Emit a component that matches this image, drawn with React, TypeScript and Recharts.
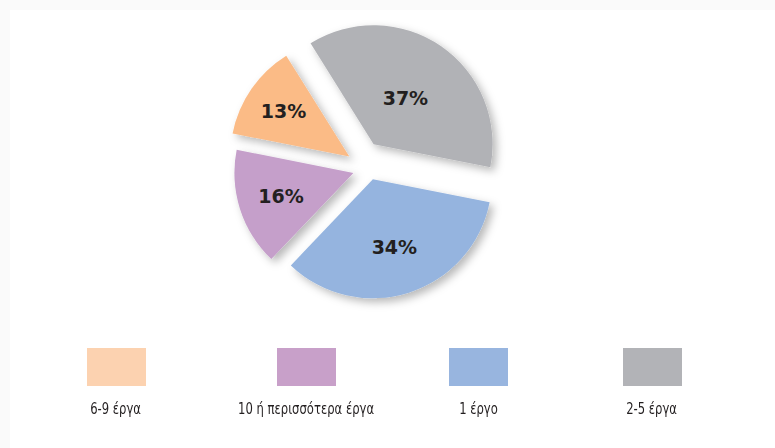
import { PieChart, Pie, Cell, Sector } from 'recharts';

// share of respondents by number of projects (clockwise from the top-left edge)
const categories = ['2-5 έργα', '1 έργο', '10 ή περισσότερα έργα', '6-9 έργα'];
const shares = [37, 34, 16, 13];
const labels = ['37%', '34%', '16%', '13%'];

// legend order as printed under the chart
const legendOrder = ['6-9 έργα', '10 ή περισσότερα έργα', '1 έργο', '2-5 έργα'];

const sliceColors = ['#b1b2b6', '#95b4df', '#c59fca', '#fbbb86'];
const legendColors: Record<string, string> = {
  '6-9 έργα': '#fcd2b0',
  '10 ή περισσότερα έργα': '#c8a0c9',
  '1 έργο': '#98b5df',
  '2-5 έργα': '#b2b3b7',
};

// how far each slice is pulled away from the pie centre (dx, dy),
// and how far its label sits from the slice tip
const sliceShift = [
  [13.6, -19.8],
  [12.9, 15.2],
  [-6.6, 8.9],
  [-10.7, -7.4],
];
const labelDist = [56, 71, 76, 80];
const legendCenters = [116, 306, 478, 652];

const data = categories.map((name, i) => ({ name, value: shares[i], label: labels[i] }));

const RAD = Math.PI / 180;

function ExplodedSlice(props: any) {
  const { cx, cy, fill, index } = props;
  const [dx, dy] = sliceShift[index] ?? [0, 0];
  return (
    <Sector
      {...props}
      cx={cx + dx}
      cy={cy + dy}
      fill={fill}
      stroke="none"
      filter="url(#sliceShadow)"
    />
  );
}

function SliceLabel(props: any) {
  const { cx, cy, midAngle, index } = props;
  const [dx, dy] = sliceShift[index] ?? [0, 0];
  const r = labelDist[index];
  const x = cx + dx + r * Math.cos(midAngle * RAD);
  const y = cy + dy - r * Math.sin(midAngle * RAD);
  return (
    <text
      x={x}
      y={y}
      textAnchor="middle"
      dominantBaseline="central"
      fill="#231f20"
      fontFamily="'DejaVu Sans', Verdana, sans-serif"
      fontWeight="bold"
      fontSize={19}
    >
      {labels[index]}
    </text>
  );
}

export default function App() {
  return (
    <div
      style={{
        position: 'absolute',
        left: 0,
        top: 0,
        width: 775,
        height: 448,
        background: '#fafafa',
        overflow: 'hidden',
      }}
    >
      <svg width={0} height={0} style={{ position: 'absolute' }}>
        <defs>
          <filter id="sliceShadow" x="-30%" y="-30%" width="160%" height="160%">
            <feDropShadow dx={4} dy={4} stdDeviation={4} floodColor="#000" floodOpacity={0.28} />
          </filter>
        </defs>
      </svg>
      <div
        style={{
          position: 'absolute',
          left: 10,
          top: 10,
          width: 765,
          height: 438,
          background: '#fff',
        }}
      />
      <div style={{ position: 'absolute', left: 0, top: 0 }}>
        <PieChart width={775} height={448} margin={{ top: 0, right: 0, bottom: 0, left: 0 }}>
          <Pie
            data={data}
            dataKey="value"
            nameKey="name"
            cx={360}
            cy={164}
            outerRadius={119}
            startAngle={122}
            endAngle={-238}
            stroke="none"
            shape={ExplodedSlice}
            label={SliceLabel}
            labelLine={false}
            isAnimationActive={false}
          >
            {data.map((d, i) => (
              <Cell key={d.name} fill={sliceColors[i]} />
            ))}
          </Pie>
        </PieChart>
      </div>
      {legendOrder.map((name, i) => (
        <div
          key={name}
          style={{
            position: 'absolute',
            left: legendCenters[i] - 100,
            top: 348,
            width: 200,
            display: 'flex',
            flexDirection: 'column',
            alignItems: 'center',
          }}
        >
          <div style={{ width: 59, height: 38, background: legendColors[name] }} />
          <div
            style={{
              marginTop: 14,
              fontFamily: "'DejaVu Sans Condensed', 'DejaVu Sans', sans-serif",
              fontSize: 15,
              color: '#231f20',
              lineHeight: '18px',
              whiteSpace: 'nowrap',
              transform: 'scaleX(0.86)',
            }}
          >
            {name}
          </div>
        </div>
      ))}
    </div>
  );
}
